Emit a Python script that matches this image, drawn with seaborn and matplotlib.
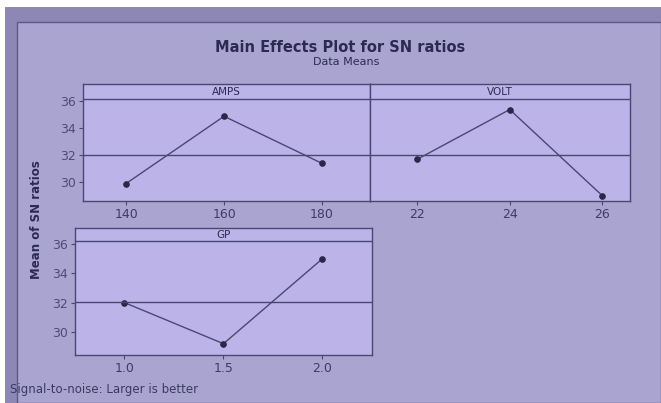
import matplotlib
matplotlib.use("Agg")
import matplotlib.pyplot as plt
from matplotlib.patches import Rectangle
import seaborn as sns
import pandas as pd

# %%
# Data
amps_levels = [140, 160, 180]
amps_sn = [29.9, 34.9, 31.4]
volt_levels = [22, 24, 26]
volt_sn = [31.7, 35.4, 29.0]
gp_levels = [1.0, 1.5, 2.0]
gp_sn = [32.0, 29.2, 35.0]

yticks = [30, 32, 34, 36]

sns.set_style("ticks")
plt.rcParams['font.family'] = ['DejaVu Sans']

ink = "#2c2a52"
line_col = "#4a4872"
panel_bg = "#bcb4e8"

fig = plt.figure(figsize=(6.61, 4.03), dpi=100)
fig.patch.set_facecolor("white")

# photo-ish backdrop
fig.add_artist(Rectangle((5 / 661, 0), 1, 1 - 7 / 403, transform=fig.transFigure,
                         facecolor="#8d87b5", edgecolor="none", zorder=-3))
fig.add_artist(Rectangle((17 / 661, 0), 1 - 17 / 661, 1 - 22 / 403, transform=fig.transFigure,
                         facecolor="#aaa5d0", edgecolor="#5d5987", lw=1.0, zorder=-2))

grand_mean = sum(amps_sn + volt_sn + gp_sn) / 9


def panel(rect, x, y, name, xlim, ylim, show_y=True):
    ax = fig.add_axes(rect)
    ax.set_facecolor(panel_bg)
    df = pd.DataFrame({"level": x, "sn": y})
    sns.lineplot(data=df, x="level", y="sn", ax=ax, color=line_col, lw=1.0,
                 marker="o", markersize=4, markeredgecolor="#2a2848",
                 markerfacecolor="#2a2848")
    ax.axhline(grand_mean, color=line_col, lw=1.0)
    ax.axhline(36.17, color=line_col, lw=1.0)
    ax.set_xlim(*xlim)
    ax.set_ylim(*ylim)
    ax.set_xticks(x)
    ax.set_xticklabels([f"{v:g}" if isinstance(v, int) else f"{v:.1f}" for v in x],
                       color="#3e3c66", fontsize=9)
    ax.text(0.5, (36.17 + ylim[1]) / 2, name, transform=ax.get_yaxis_transform(),
            ha="center", va="center", fontsize=7.5, color=ink)
    if show_y:
        ax.set_yticks(yticks)
        ax.set_yticklabels([str(t) for t in yticks], color="#4e4c76", fontsize=9)
    else:
        ax.set_yticks([])
    ax.tick_params(length=3, width=0.8, color=line_col, pad=2)
    ax.set_xlabel("")
    ax.set_ylabel("")
    for s in ax.spines.values():
        s.set_color(line_col)
        s.set_linewidth(1.0)
    return ax


panel([83 / 661, 1 - 201 / 403, 287 / 661, 117 / 403], amps_levels, amps_sn,
      "AMPS", (131.2, 189.8), (28.6, 37.3))
panel([370 / 661, 1 - 201 / 403, 260 / 661, 117 / 403], volt_levels, volt_sn,
      "VOLT", (20.98, 26.6), (28.6, 37.3), show_y=False)
panel([75 / 661, 1 - 355 / 403, 297 / 661, 127 / 403], gp_levels, gp_sn,
      "GP", (0.75, 2.25), (28.43, 37.09))

fig.text(340 / 661, 1 - 47 / 403, "Main Effects Plot for SN ratios", ha="center",
         va="center", fontsize=10.5, fontweight="bold", color=ink)
fig.text(346 / 661, 1 - 62 / 403, "Data Means", ha="center", va="center",
         fontsize=8, color=ink)
fig.text(37 / 661, 1 - 220 / 403, "Mean of SN ratios", rotation=90, ha="center",
         va="center", fontsize=8.5, fontweight="bold", color=ink)
fig.text(10 / 661, 1 - 390 / 403, "Signal-to-noise: Larger is better", ha="left",
         va="center", fontsize=8.5, color="#3c3a62")

fig.savefig("out.png", dpi=100, facecolor=fig.get_facecolor())
